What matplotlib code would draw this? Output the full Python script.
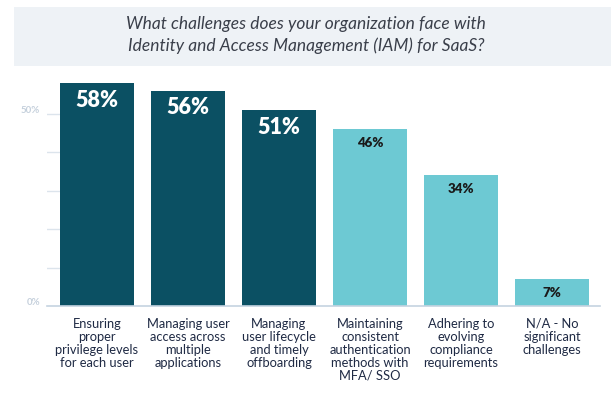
import matplotlib
matplotlib.use("Agg")
import matplotlib.pyplot as plt
from matplotlib.patches import Rectangle

categories = [
    "Ensuring\nproper\nprivilege levels\nfor each user",
    "Managing user\naccess across\nmultiple\napplications",
    "Managing\nuser lifecycle\nand timely\noffboarding",
    "Maintaining\nconsistent\nauthentication\nmethods with\nMFA/ SSO",
    "Adhering to\nevolving\ncompliance\nrequirements",
    "N/A - No\nsignificant\nchallenges",
]
values = [58, 56, 51, 46, 34, 7]
highlight = [True, True, True, False, False, False]
tick_values = [0, 50]
tick_labels = ["0%", "50%"]
minor_ticks = [10, 20, 30, 40]
title = "What challenges does your organization face with\nIdentity and Access Management (IAM) for SaaS?"

DARK = "#0B5063"
LIGHT = "#6DC9D3"
W, H = 611, 397
fig = plt.figure(figsize=(W / 100, H / 100), dpi=100)
plt.rcParams['font.family'] = ['Lato', 'DejaVu Sans']

# Title box
fig.patches.append(Rectangle((14 / W, 1 - 66 / H), (W - 14) / W, 59 / H,
                             transform=fig.transFigure, facecolor="#EEF2F6",
                             edgecolor="none", zorder=0))
fig.text(306 / W, 1 - 35 / H, title, ha="center", va="center",
         fontsize=12.5, style="italic", color="#3A3F4A", linespacing=1.38)

left_px, right_px = 47, 600
bottom_px, top_px = 306, 66
ax = fig.add_axes([left_px / W, 1 - bottom_px / H, (right_px - left_px) / W,
                   (bottom_px - top_px) / H])
x0 = (left_px - 97) / 91
x1 = (right_px - 97) / 91
ax.set_xlim(x0, x1)
ax.set_ylim(0, (bottom_px - top_px) / 3.84)

xs = list(range(len(values)))
colors = [DARK if h else LIGHT for h in highlight]
ax.bar(xs, values, width=74 / 91, color=colors, zorder=2)

for s in ax.spines.values():
    s.set_visible(False)
ax.set_xticks([])
ax.set_yticks([])

tr = ax.get_yaxis_transform()
for v in minor_ticks + [50]:
    ax.plot([0, 13 / (right_px - left_px)], [v, v], transform=tr,
            color="#DCE4EC", lw=1, zorder=1)
ax.plot([0, 1], [0, 0], transform=tr, color="#C5D3E0", lw=1.2, zorder=3,
        clip_on=False)
for v, lab in zip(tick_values, tick_labels):
    ax.text(-7 / (right_px - left_px), v + 0.8, lab, transform=tr, ha="right",
            va="center", fontsize=7, color="#C5D0DC", fontweight="bold")

for x, v, h in zip(xs, values, highlight):
    if h:
        ax.text(x, v - 17 / 3.84, f"{v}%", ha="center", va="center",
                fontsize=15.5, fontweight="heavy", color="white", zorder=4)
    else:
        ax.text(x, v - 14 / 3.84, f"{v}%", ha="center", va="center",
                fontsize=9.5, fontweight="heavy", color="#1A1A1A", zorder=4)

for x, c in zip(xs, categories):
    ax.text(x, -12 / 3.84, c, ha="center", va="top", fontsize=9.3,
            color="#1F2A44", linespacing=1.1, clip_on=False)

fig.savefig("out.png", dpi=100)
